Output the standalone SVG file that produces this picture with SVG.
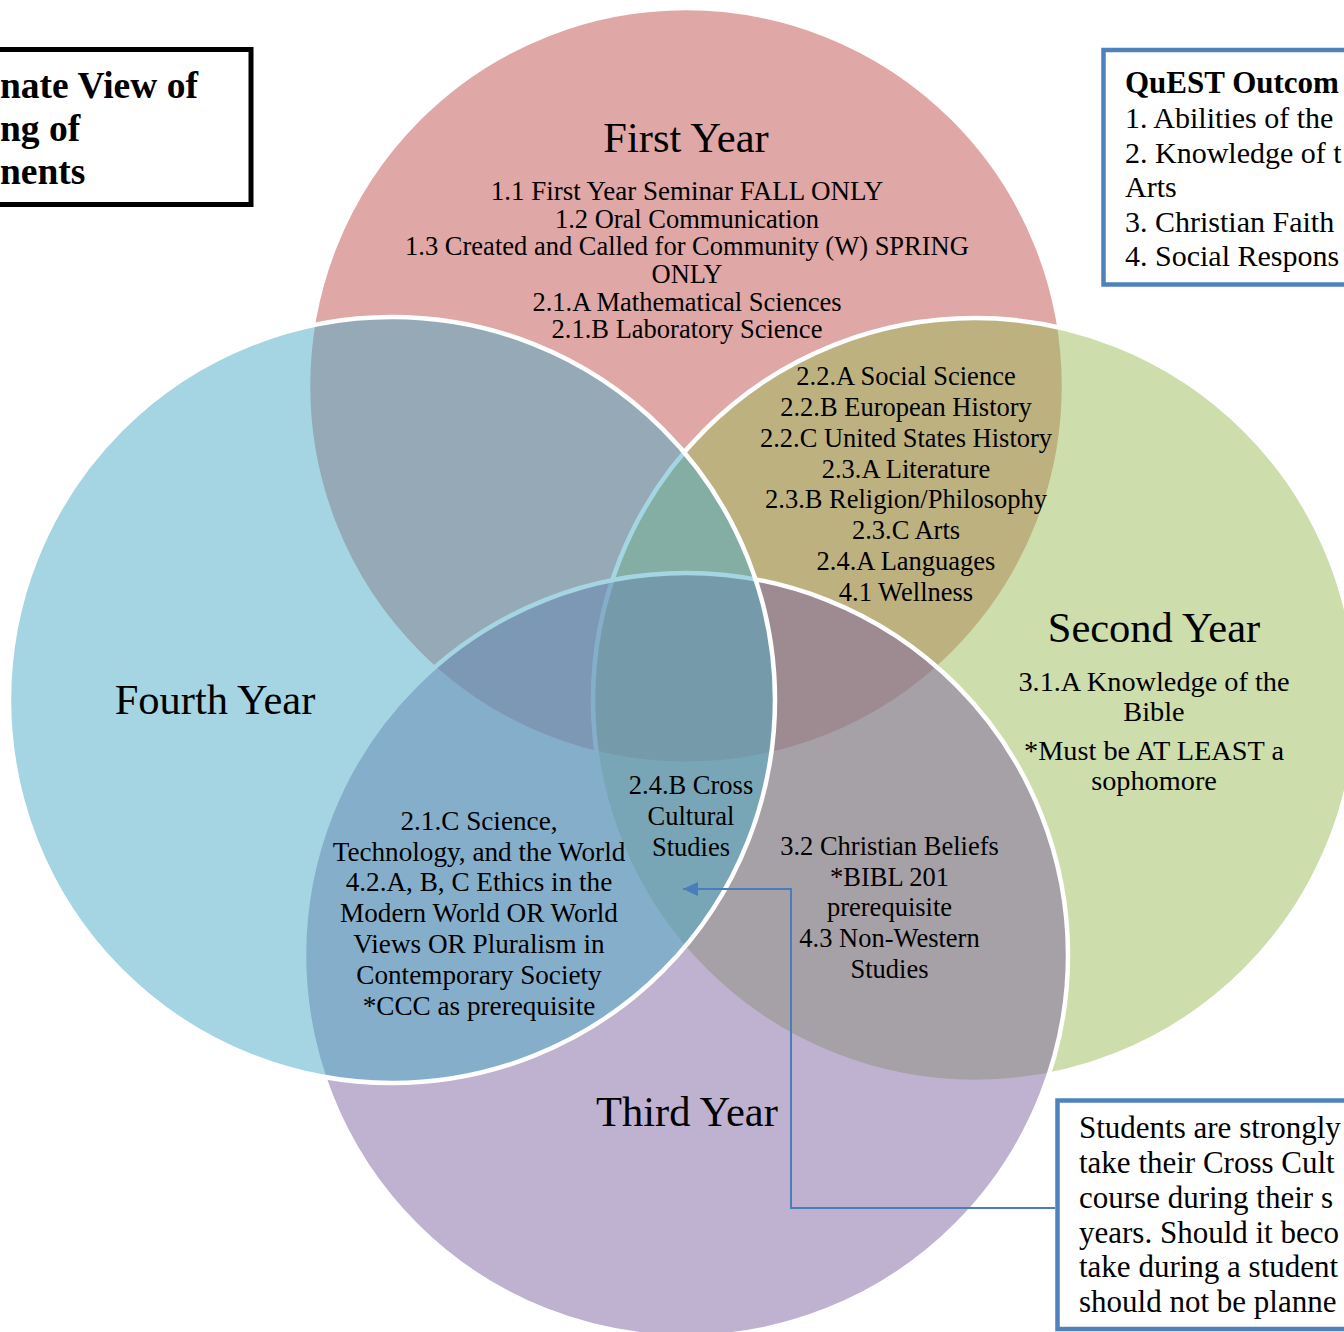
<svg xmlns="http://www.w3.org/2000/svg" width="1344" height="1332" viewBox="0 0 1344 1332">
<style>
.c{stroke:#fff;stroke-width:4.5;fill-opacity:0.5}
.t{font-family:"Liberation Serif","Times New Roman",serif;fill:#000;text-anchor:middle}
.title{font-size:42.5px}
.item{font-size:26.5px}
.box{font-family:"Liberation Serif","Times New Roman",serif;fill:#000}
</style>
<defs>
<marker id="arr" markerUnits="userSpaceOnUse" markerWidth="16" markerHeight="14" refX="15" refY="7" orient="auto">
<path d="M0,0 L15,7 L0,14 Z" fill="#4a7ebb"/>
</marker>
</defs>
<rect width="1344" height="1332" fill="#fff"/>

<g id="first-year">
<circle class="c" cx="686" cy="386" r="378" fill="#c0504d"/>
<text class="t title" x="686" y="152">First Year</text>
</g>
<g id="second-year">
<circle class="c" cx="975" cy="700" r="382" fill="#9bbb59"/>
<text class="t title" x="1154" y="642">Second Year</text>
</g>
<g id="third-year">
<circle class="c" cx="686" cy="955" r="382" fill="#8064a2"/>
<text class="t title" x="687" y="1126">Third Year</text>
</g>
<g id="fourth-year">
<circle class="c" cx="392" cy="700" r="383" fill="#4bacc6"/>
<text class="t title" x="215" y="714">Fourth Year</text>
</g>

<g id="first-year-items" class="t item">
<text x="687" y="200" font-size="27">1.1 First Year Seminar FALL ONLY</text>
<text x="687" y="227.5">1.2 Oral Communication</text>
<text x="687" y="255">1.3 Created and Called for Community (W) SPRING</text>
<text x="687" y="283">ONLY</text>
<text x="687" y="310.5">2.1.A Mathematical Sciences</text>
<text x="687" y="338">2.1.B Laboratory Science</text>
</g>
<g id="first-second-items" class="t item">
<text x="906" y="385">2.2.A Social Science</text>
<text x="906" y="416">2.2.B European History</text>
<text x="906" y="447">2.2.C United States History</text>
<text x="906" y="478">2.3.A Literature</text>
<text x="906" y="508">2.3.B Religion/Philosophy</text>
<text x="906" y="539">2.3.C Arts</text>
<text x="906" y="570">2.4.A Languages</text>
<text x="906" y="601">4.1 Wellness</text>
</g>
<g id="second-year-items" class="t" font-size="28.3">
<text x="1154" y="691">3.1.A Knowledge of the</text>
<text x="1154" y="721">Bible</text>
<text x="1154" y="760">*Must be AT LEAST a</text>
<text x="1154" y="790">sophomore</text>
</g>
<g id="third-fourth-items" class="t" font-size="27.2">
<text x="479" y="830">2.1.C Science,</text>
<text x="479" y="861">Technology, and the World</text>
<text x="479" y="891">4.2.A, B, C Ethics in the</text>
<text x="479" y="922">Modern World OR World</text>
<text x="479" y="953">Views OR Pluralism in</text>
<text x="479" y="984">Contemporary Society</text>
<text x="479" y="1015">*CCC as prerequisite</text>
</g>
<g id="cross-cultural" class="t item">
<text x="691" y="794">2.4.B Cross</text>
<text x="691" y="825">Cultural</text>
<text x="691" y="856">Studies</text>
</g>
<g id="second-third-items" class="t item">
<text x="889.5" y="855">3.2 Christian Beliefs</text>
<text x="889.5" y="886">*BIBL 201</text>
<text x="889.5" y="916">prerequisite</text>
<text x="889.5" y="947">4.3 Non-Western</text>
<text x="889.5" y="978">Studies</text>
</g>

<g id="title-box">
<rect x="-10" y="49.5" width="261" height="155" fill="#fff" stroke="#000" stroke-width="5"/>
<text class="box" font-size="37.5" font-weight="bold" x="0" y="98">nate View of</text>
<text class="box" font-size="37.5" font-weight="bold" x="0" y="141">ng of</text>
<text class="box" font-size="37.5" font-weight="bold" x="0" y="184">nents</text>
</g>

<g id="outcomes-box">
<rect x="1103.5" y="50" width="260" height="234.5" fill="#fff" stroke="#4f81bd" stroke-width="4.5"/>
<text class="box" font-size="31" font-weight="bold" x="1125" y="93">QuEST Outcom</text>
<text class="box" font-size="30" x="1125" y="128">1. Abilities of the</text>
<text class="box" font-size="30" x="1125" y="162.5">2. Knowledge of t</text>
<text class="box" font-size="30" x="1125" y="197">Arts</text>
<text class="box" font-size="30" x="1125" y="231.5">3. Christian Faith</text>
<text class="box" font-size="30" x="1125" y="266">4. Social Respons</text>
</g>

<g id="note-box">
<rect x="1057.5" y="1100.5" width="300" height="228.5" fill="#fff" stroke="#4f81bd" stroke-width="4.5"/>
<text class="box" font-size="31" x="1079" y="1138">Students are strongly</text>
<text class="box" font-size="31" x="1079" y="1173">take their Cross Cult</text>
<text class="box" font-size="31" x="1079" y="1207.5">course during their s</text>
<text class="box" font-size="31" x="1079" y="1242.5">years. Should it beco</text>
<text class="box" font-size="31" x="1079" y="1277">take during a student</text>
<text class="box" font-size="31" x="1079" y="1311.5">should not be planne</text>
</g>

<g id="connectors">
<polyline points="1055,1208 791,1208 791,889 683,889" fill="none" stroke="#4a7ebb" stroke-width="2" marker-end="url(#arr)"/>
</g>
</svg>
